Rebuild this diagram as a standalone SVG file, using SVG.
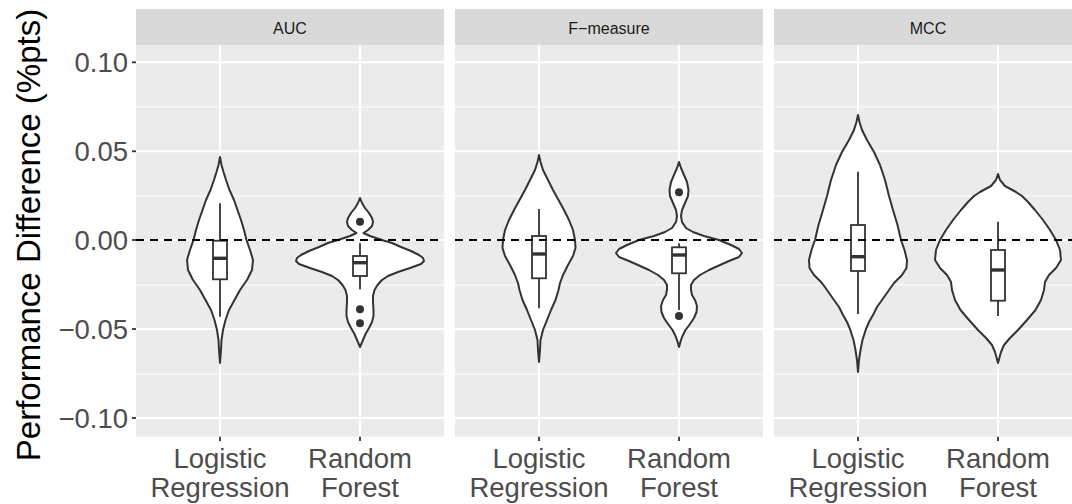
<svg xmlns="http://www.w3.org/2000/svg" width="1072" height="504" viewBox="0 0 1072 504">
<style>
.bg{fill:#EBEBEB}
.strip{fill:#D9D9D9}
.mn{stroke:#FFFFFF;stroke-width:1}
.mj{stroke:#FFFFFF;stroke-width:2}
.vio{fill:#FFFFFF;stroke:#333333;stroke-width:2;stroke-linejoin:round}
.box{fill:#FFFFFF;stroke:#333333;stroke-width:1.8}
.wh{stroke:#333333;stroke-width:1.8}
.med{stroke:#333333;stroke-width:3.4}
.pt{fill:#333333}
.ref{stroke:#000000;stroke-width:2;stroke-dasharray:8 6}
.tick{stroke:#333333;stroke-width:1.8}
.st{font-family:"Liberation Sans",Arial,sans-serif;font-size:16px;fill:#1A1A1A;text-anchor:middle}
.yl{font-family:"Liberation Sans",Arial,sans-serif;font-size:27.5px;fill:#4D4D4D;text-anchor:end}
.xl{font-family:"Liberation Sans",Arial,sans-serif;font-size:27.5px;fill:#4D4D4D;text-anchor:middle}
.ttl{font-family:"Liberation Sans",Arial,sans-serif;font-size:33px;fill:#000000;text-anchor:middle}
</style>
<defs>
<g id="grid">
<rect class="bg" x="0" y="45" width="308" height="391.7"/>
<line class="mn" x1="0" x2="308" y1="107" y2="107"/>
<line class="mn" x1="0" x2="308" y1="196" y2="196"/>
<line class="mn" x1="0" x2="308" y1="285" y2="285"/>
<line class="mn" x1="0" x2="308" y1="374" y2="374"/>
<line class="mj" x1="0" x2="308" y1="62.3" y2="62.3"/>
<line class="mj" x1="0" x2="308" y1="151.3" y2="151.3"/>
<line class="mj" x1="0" x2="308" y1="240" y2="240"/>
<line class="mj" x1="0" x2="308" y1="329" y2="329"/>
<line class="mj" x1="0" x2="308" y1="418" y2="418"/>
<line class="mj" x1="84" x2="84" y1="45" y2="436.7"/>
<line class="mj" x1="224" x2="224" y1="45" y2="436.7"/>
<rect class="strip" x="0" y="9" width="308" height="36"/>
<line class="tick" x1="84" x2="84" y1="436.7" y2="441"/>
<line class="tick" x1="224" x2="224" y1="436.7" y2="441"/>
</g>
</defs>

<g id="panel-auc">
<use href="#grid" transform="translate(136,0)"/>
<text class="st" x="290" y="34">AUC</text>
<path class="vio" transform="translate(220,0)" d="M0,157 L1.5,165 L3.5,172 L6,180 L9.5,190 L14,200 L17.5,210 L21,220 L24,230 L26.5,240 L30,250 L33,260 L32,270 L27,280 L20,290 L14.5,300 L9,310 L5.5,320 L3,330 L1.5,340 L1,350 L0,363 L-1,350 L-1.5,340 L-3,330 L-5.5,320 L-9,310 L-14.5,300 L-20,290 L-27,280 L-32,270 L-33,260 L-30,250 L-26.5,240 L-24,230 L-21,220 L-17.5,210 L-14,200 L-9.5,190 L-6,180 L-3.5,172 L-1.5,165 Z"/>
<path class="vio" transform="translate(360,0)" d="M0,198 L2,203 L5,208 L9,213 L12,218 L13,222 L12,226 L8,230 L3.5,233 L10,236 L22,240 L32,243 L41,247 L51,251 L59,255 L63,258 L64,261 L61,264 L50,268 L38,272 L28,276 L22,280 L17.5,285 L14.5,290 L13,296 L13,302 L13.5,310 L13.5,316 L12,322 L9,328 L5.5,334 L3,340 L0,347 L-3,340 L-5.5,334 L-9,328 L-12,322 L-13.5,316 L-13.5,310 L-13,302 L-13,296 L-14.5,290 L-17.5,285 L-22,280 L-28,276 L-38,272 L-50,268 L-61,264 L-64,261 L-63,258 L-59,255 L-51,251 L-41,247 L-32,243 L-22,240 L-10,236 L-3.5,233 L-8,230 L-12,226 L-13,222 L-12,218 L-9,213 L-5,208 L-2,203 Z"/>
<line class="wh" x1="220" x2="220" y1="203.3" y2="316.7"/>
<rect class="box" x="213" y="240.7" width="14" height="38.6"/>
<line class="med" x1="213" x2="227" y1="258.3" y2="258.3"/>
<line class="wh" x1="360" x2="360" y1="243.3" y2="289.3"/>
<rect class="box" x="353" y="256" width="14" height="20"/>
<line class="med" x1="353" x2="367" y1="262.7" y2="262.7"/>
<circle class="pt" cx="360" cy="221.7" r="4"/>
<circle class="pt" cx="360" cy="309.3" r="4"/>
<circle class="pt" cx="360" cy="323.3" r="4"/>
</g>

<g id="panel-fmeasure">
<use href="#grid" transform="translate(455,0)"/>
<text class="st" x="609" y="34">F−measure</text>
<path class="vio" transform="translate(539,0)" d="M0,155 L1.5,162 L4,170 L9,180 L14,190 L19.5,200 L25,210 L30,220 L34,230 L36,240 L36.5,248 L34,256 L29,265 L24,275 L21,283 L19.5,290 L16.5,300 L12,310 L8,320 L4,330 L1.5,340 L1,350 L0,362 L-1,350 L-1.5,340 L-4,330 L-8,320 L-12,310 L-16.5,300 L-19.5,290 L-21,283 L-24,275 L-29,265 L-34,256 L-36.5,248 L-36,240 L-34,230 L-30,220 L-25,210 L-19.5,200 L-14,190 L-9,180 L-4,170 L-1.5,162 Z"/>
<path class="vio" transform="translate(679,0)" d="M0,162 L2,168 L5,175 L8,182 L9.5,190 L9,196 L6,203 L3,210 L2,216 L3,222 L7,228 L14,232 L25,236 L40,240 L52,245 L60,249 L63,253 L60,257 L50,261 L41,265 L30,270 L21,275 L15,280 L12,285 L12,290 L13,295 L16,300 L18,306 L17.5,312 L15,318 L11,324 L6.5,330 L3.5,336 L2,340 L0,347 L-2,340 L-3.5,336 L-6.5,330 L-11,324 L-15,318 L-17.5,312 L-18,306 L-16,300 L-13,295 L-12,290 L-12,285 L-15,280 L-21,275 L-30,270 L-41,265 L-50,261 L-60,257 L-63,253 L-60,249 L-52,245 L-40,240 L-25,236 L-14,232 L-7,228 L-3,222 L-2,216 L-3,210 L-6,203 L-9,196 L-9.5,190 L-8,182 L-5,175 L-2,168 Z"/>
<line class="wh" x1="539" x2="539" y1="209" y2="308.3"/>
<rect class="box" x="532" y="236" width="14" height="42.3"/>
<line class="med" x1="532" x2="546" y1="254" y2="254"/>
<line class="wh" x1="679" x2="679" y1="243.3" y2="310"/>
<rect class="box" x="672" y="247.3" width="14" height="26"/>
<line class="med" x1="672" x2="686" y1="255" y2="255"/>
<circle class="pt" cx="679" cy="192.3" r="4"/>
<circle class="pt" cx="679" cy="316" r="4"/>
</g>

<g id="panel-mcc">
<use href="#grid" transform="translate(774,0)"/>
<text class="st" x="928" y="34">MCC</text>
<path class="vio" transform="translate(858,0)" d="M0,115 L1.5,122 L4,130 L9,140 L16,152 L22,165 L27,180 L31,196 L35,210 L39.5,225 L43,240 L46.5,250 L49,260 L48.5,268 L44,275 L36,283 L31,290 L24,300 L19,307 L15,315 L11,322 L8,329 L4.5,340 L2.5,350 L1,360 L0,372 L-1,360 L-2.5,350 L-4.5,340 L-8,329 L-11,322 L-15,315 L-19,307 L-24,300 L-31,290 L-36,283 L-44,275 L-48.5,268 L-49,260 L-46.5,250 L-43,240 L-39.5,225 L-35,210 L-31,196 L-27,180 L-22,165 L-16,152 L-9,140 L-4,130 L-1.5,122 Z"/>
<path class="vio" transform="translate(998,0)" d="M0,174 L2,180 L7,186 L18,192 L24,196 L30,202 L37,210 L45,220 L52,230 L58,240 L62,250 L63,260 L58,268 L51,275 L47,282 L46,290 L43,300 L37.5,310 L29,320 L20,330 L12,338 L6,345 L3,352 L0,363 L-3,352 L-6,345 L-12,338 L-20,330 L-29,320 L-37.5,310 L-43,300 L-46,290 L-47,282 L-51,275 L-58,268 L-63,260 L-62,250 L-58,240 L-52,230 L-45,220 L-37,210 L-30,202 L-24,196 L-18,192 L-7,186 L-2,180 Z"/>
<line class="wh" x1="858" x2="858" y1="171.7" y2="314"/>
<rect class="box" x="851" y="225" width="14" height="46"/>
<line class="med" x1="851" x2="865" y1="256.7" y2="256.7"/>
<line class="wh" x1="998" x2="998" y1="221.7" y2="316"/>
<rect class="box" x="991" y="250" width="14" height="50.7"/>
<line class="med" x1="991" x2="1005" y1="270" y2="270"/>
</g>

<g id="connectors">
<line class="ref" x1="136" x2="444" y1="240" y2="240"/>
<line class="ref" x1="455" x2="763" y1="240" y2="240"/>
<line class="ref" x1="774" x2="1082" y1="240" y2="240"/>
</g>

<g id="y-axis">
<line class="tick" x1="132" x2="136" y1="62.3" y2="62.3"/>
<line class="tick" x1="132" x2="136" y1="151.3" y2="151.3"/>
<line class="tick" x1="132" x2="136" y1="240" y2="240"/>
<line class="tick" x1="132" x2="136" y1="329" y2="329"/>
<line class="tick" x1="132" x2="136" y1="418" y2="418"/>
<text class="yl" x="128" y="72.3">0.10</text>
<text class="yl" x="128" y="161.3">0.05</text>
<text class="yl" x="128" y="250">0.00</text>
<text class="yl" x="128" y="339">−0.05</text>
<text class="yl" x="128" y="428">−0.10</text>
<text class="ttl" transform="translate(40,235) rotate(-90)">Performance Difference (%pts)</text>
</g>

<g id="x-axis">
<text class="xl" x="220" y="468">Logistic</text>
<text class="xl" x="220" y="497">Regression</text>
<text class="xl" x="360" y="468">Random</text>
<text class="xl" x="360" y="497">Forest</text>
<text class="xl" x="539" y="468">Logistic</text>
<text class="xl" x="539" y="497">Regression</text>
<text class="xl" x="679" y="468">Random</text>
<text class="xl" x="679" y="497">Forest</text>
<text class="xl" x="858" y="468">Logistic</text>
<text class="xl" x="858" y="497">Regression</text>
<text class="xl" x="998" y="468">Random</text>
<text class="xl" x="998" y="497">Forest</text>
</g>
</svg>
